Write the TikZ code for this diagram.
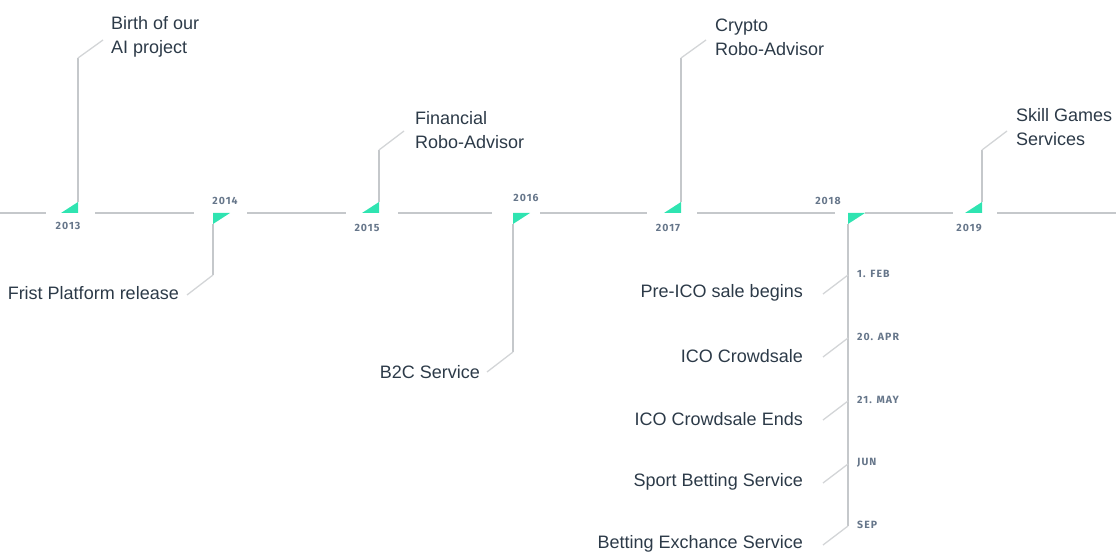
\documentclass[tikz,border=0pt]{standalone}
\usepackage{fontspec}
\setmainfont{Liberation Sans}
\newfontfamily\yearfont[LetterSpace=10]{Fira Sans}
\definecolor{linegray}{HTML}{C5C8CB}
\definecolor{leadgray}{HTML}{D3D5D7}
\definecolor{ink}{HTML}{2C3A48}
\definecolor{yeargray}{HTML}{66768A}
\definecolor{mint}{HTML}{2FE4B1}
\tikzset{
  event/.style={text=ink, font=\fontsize{18}{24}\selectfont, inner sep=0pt, align=left},
  year/.style={text=yeargray, font=\yearfont\bfseries\fontsize{10.5}{11}\selectfont, inner sep=0pt},
  axis/.style={draw=linegray, line width=1.6pt},
  stem/.style={draw=linegray, line width=1.5pt},
  lead/.style={draw=leadgray, line width=1.3pt},
  flag/.style={fill=mint},
}
\begin{document}
\begin{tikzpicture}[x=1pt,y=-1pt]
        \useasboundingbox (0,0) rectangle (1116,553);

        % Asse
        \foreach \a/\b in {0/46, 95/194, 247/346, 398/492, 540/647, 697/835, 865/953, 997/1116}
            \draw[axis] (\a,213) -- (\b,213);

        % Bandierine sopra
        \foreach \x/\n in {78/f13, 379/f15, 681/f17, 982/f19}{
            \coordinate (\n) at (\x,202);
            \fill[flag] (\x-17,213) -- (\x,213) -- (\n) -- cycle;
        }
        % Bandierine sotto
        \foreach \x/\n in {213/f14, 513/f16, 848/f18}{
            \coordinate (\n) at (\x,224);
            \fill[flag] (\x,213) -- (\x+17,213) -- (\n) -- cycle;
        }

        % Anni
        \node[year] (y13) at (68,226) {2013};
        \node[year] (y14) at (225,201) {2014};
        \node[year] (y15) at (367,228) {2015};
        \node[year] (y16) at (526,198) {2016};
        \node[year] (y17) at (668,228) {2017};
        \node[year] (y18) at (828,201) {2018};
        \node[year] (y19) at (969,228) {2019};

        % Eventi
        \node[event, anchor=west] (e13) at (111,37) {Birth of our\\AI project};
        \node[event, anchor=east] (e14) at (179,293) {Frist Platform release};
        \node[event, anchor=west] (e15) at (415,130) {Financial\\Robo-Advisor};
        \node[event, anchor=east] (e16) at (480,372) {B2C Service};
        \node[event, anchor=west] (e17) at (715,37) {Crypto\\Robo-Advisor};
        \node[event, anchor=west] (e19) at (1016,127) {Skill Games\\Services};

        \coordinate (b13) at (78,58);   \coordinate (t13) at (103,40);
        \coordinate (b14) at (213,275); \coordinate (t14) at (187,295);
        \coordinate (b15) at (379,150); \coordinate (t15) at (404,131);
        \coordinate (b16) at (513,352); \coordinate (t16) at (487,372);
        \coordinate (b17) at (681,58);  \coordinate (t17) at (706,40);
        \coordinate (b19) at (982,150); \coordinate (t19) at (1007,131);
        \foreach \n in {13,14,15,16,17,19}{
            \draw[stem] (f\n) -- (b\n);
            \draw[lead] (b\n) -- (t\n);
        }

        % 2018
        \coordinate (s18) at (848,526);
        \draw[stem] (f18) -- (s18);
        \foreach \y/\d/\t [count=\i] in {275/1. FEB/Pre-ICO sale begins,
                                         338/20. APR/ICO Crowdsale,
                                         401/21. MAY/ICO Crowdsale Ends,
                                         464/JUN/Sport Betting Service,
                                         526/SEP/Betting Exchance Service}{
            \coordinate (p\i) at (848,\y);
            \coordinate (q\i) at (823,\y+19);
            \draw[lead] (p\i) -- (q\i);
            \node[year, anchor=west] (d\i) at (857,\y-1) {\d};
            \node[event, anchor=east] (m\i) at (803,\y+18) {\t};
        }

    \end{tikzpicture}
\end{document}
